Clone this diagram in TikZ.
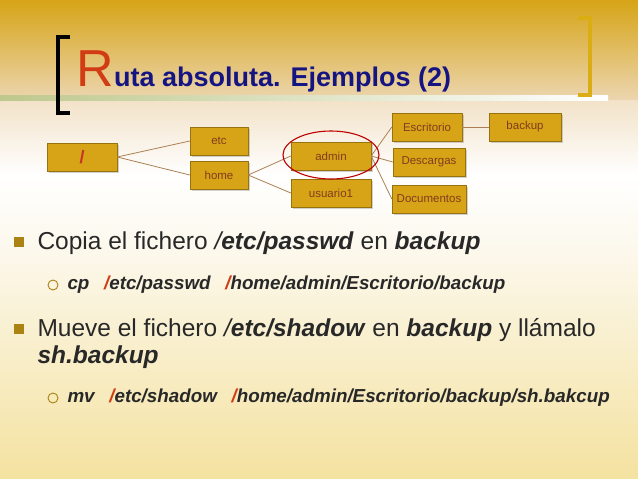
\documentclass[tikz,border=0pt]{standalone}
\usepackage{fontspec}
\setmainfont{Liberation Sans}
\usetikzlibrary{shadows}
\definecolor{gold}{RGB}{214,164,22}
\definecolor{boxtxt}{RGB}{130,60,30}
\definecolor{navy}{RGB}{20,20,130}
\definecolor{rred}{RGB}{210,60,20}
\definecolor{slash}{RGB}{200,50,40}
\definecolor{bodytxt}{RGB}{40,40,40}
\tikzset{
  dir/.style={draw=gold!70!black,fill=gold,minimum width=#1,minimum height=28pt,
    inner sep=1pt,font=\fontsize{11.5}{12}\selectfont,text=boxtxt,
    drop shadow={opacity=0.35,shadow xshift=1.5pt,shadow yshift=-1.5pt}},
  dir/.default=62pt,
  line/.style={font=\fontsize{24.5}{28}\selectfont,anchor=west,text=bodytxt},
  subline/.style={font=\fontsize{18.8}{22}\selectfont\bfseries\itshape,anchor=west,text=bodytxt},
  link/.style={draw=brown!70!gray,line width=0.8pt},
}
\begin{document}
\begin{tikzpicture}[x=1pt,y=-1pt]
  \useasboundingbox (0,0) rectangle (638,479);
  % fondo
  \shade[top color=gold,bottom color={rgb,255:red,236;green,214;blue,176}] (0,0) rectangle (638,100);
  \shade[top color={rgb,255:red,242;green,226;blue,200},bottom color={rgb,255:red,252;green,248;blue,236},middle color=white] (0,100) rectangle (638,250);
  \shade[top color={rgb,255:red,252;green,248;blue,236},bottom color={rgb,255:red,244;green,226;blue,160}] (0,250) rectangle (638,479);
  \shade[left color={rgb,255:red,190;green,200;blue,140},right color=white] (0,95) rectangle (608,100);
  % titulo
  \draw[line width=4pt] (70,37) -- (58,37) -- (58,113) -- (70,113);
  \draw[line width=3.5pt,color=gold!90!yellow] (578,18) -- (590,18) -- (590,95) -- (578,95);
  \node[anchor=base west,inner sep=0,text=rred,font=\fontsize{52}{52}\selectfont] (R) at (76,86) {R};
  \node[anchor=base west,inner sep=0,text=navy,font=\fontsize{27}{28}\selectfont\bfseries] (titulo) at (R.base east) {uta absoluta. Ejemplos (2)};
  % arbol
  \node[dir=70pt] (raiz) at (82,157) {\textcolor{slash}{\fontsize{18}{18}\selectfont\bfseries /}};
  \node[dir=58pt] (etc) at (219,141) {etc};
  \node[dir=58pt] (home) at (219,175) {home};
  \node[dir=80pt] (admin) at (331,156) {admin};
  \node[dir=80pt] (usuario) at (331,193) {usuario1};
  \node[dir=70pt] (escritorio) at (427,127) {Escritorio};
  \node[dir=72pt] (backup) at (525,127) {backup};
  \node[dir=72pt] (descargas) at (429,162) {Descargas};
  \node[dir=74pt] (documentos) at (429,199) {Documentos};
  \draw[link] (raiz.east) -- (etc.west);
  \draw[link] (raiz.east) -- (home.west);
  \draw[link] (home.east) -- (admin.west);
  \draw[link] (home.east) -- (usuario.west);
  \draw[link] (admin.east) -- (escritorio.west);
  \draw[link] (admin.east) -- (descargas.west);
  \draw[link] (admin.east) -- (documentos.west);
  \draw[link] (escritorio.east) -- (backup.west);
  \draw[red!75!black,line width=1.1pt] (331,155) ellipse (48 and 24);
  % texto
  \fill[gold!80!black] (14,237) rectangle (24,247);
  \node[line] (t1) at (34,243) {Copia el fichero \textit{/\textbf{etc/passwd}} en \textbf{\textit{backup}}};
  \draw[gold!80!black,line width=0.9pt] (53,285) circle (5);
  \node[subline] (t2) at (64,285) {cp \enspace \textcolor{rred}{/}etc/passwd \enspace \textcolor{rred}{/}home/admin/Escritorio/backup};
  \fill[gold!80!black] (14,324) rectangle (24,334);
  \node[line] (t3) at (34,330) {Mueve el fichero \textit{/\textbf{etc/shadow}} en \textbf{\textit{backup}} y llámalo};
  \node[line,font=\fontsize{24.5}{28}\selectfont\bfseries\itshape] (t4) at (34,357) {sh.backup};
  \draw[gold!80!black,line width=0.9pt] (53,398) circle (5);
  \node[subline] (t5) at (64,398) {mv \enspace \textcolor{rred}{/}etc/shadow \enspace \textcolor{rred}{/}home/admin/Escritorio/backup/sh.bakcup};
\end{tikzpicture}
\end{document}
